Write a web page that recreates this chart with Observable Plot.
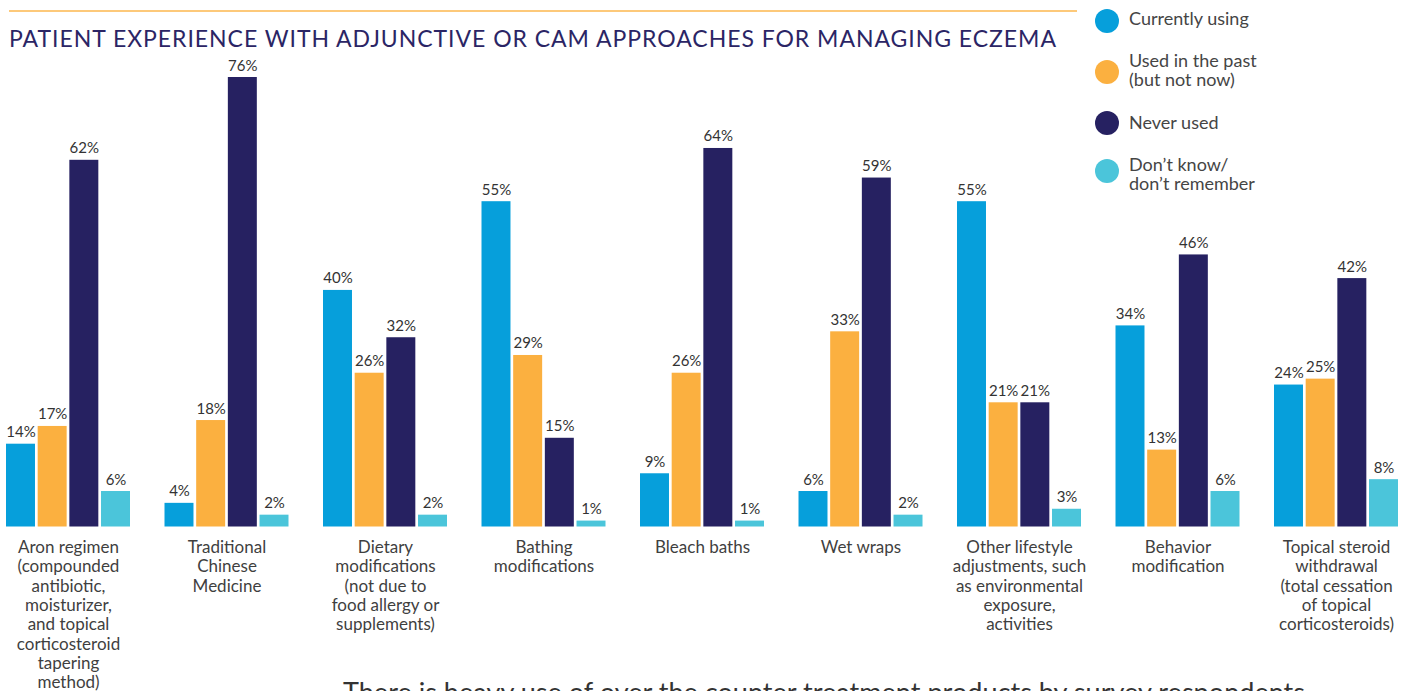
<!DOCTYPE html>
<html>
<head>
<meta charset="utf-8">
<script src="https://cdn.jsdelivr.net/npm/d3@7"></script>
<script src="https://cdn.jsdelivr.net/npm/@observablehq/plot@0.6"></script>
<style>
  html, body { margin: 0; padding: 0; background: #fff; }
  #wrap { position: relative; width: 1412px; height: 691px; overflow: hidden; font-family: Lato, "Open Sans", sans-serif; }
  #chart { position: absolute; left: 0; top: 0; }
  .abs { position: absolute; white-space: nowrap; }
  #rule { left: 9px; top: 10px; width: 1068px; height: 2px; background: #FDC97A; }
  #title { left: 9px; top: 27px; font-size: 23px; line-height: 1; color: #2B2565; }
  .dot { width: 24px; height: 24px; border-radius: 50%; }
  .leg { left: 1129px; font-size: 18px; line-height: 19px; color: #454545; }
  #note { left: 343px; top: 678px; font-size: 27px; line-height: 1; color: #333; }
</style>
</head>
<body>
<div id="wrap">
  <div id="chart"></div>
  <div id="rule" class="abs"></div>
  <div id="title" class="abs"><span id="titleText">PATIENT EXPERIENCE WITH ADJUNCTIVE OR CAM APPROACHES FOR MANAGING ECZEMA</span></div>
  <div id="legend"></div>
  <div id="note" class="abs"><span id="noteText">There is heavy use of over the counter treatment products by survey respondents</span></div>
</div>
<script>
// ---- data ----
const categories = [
  "Aron regimen", "Traditional Chinese Medicine", "Dietary modifications",
  "Bathing modifications", "Bleach baths", "Wet wraps",
  "Other lifestyle adjustments", "Behavior modification", "Topical steroid withdrawal"
];
const categoryLabels = [
  "Aron regimen\n(compounded\nantibiotic,\nmoisturizer,\nand topical\ncorticosteroid\ntapering\nmethod)",
  "Traditional\nChinese\nMedicine",
  "Dietary\nmodifications\n(not due to\nfood allergy or\nsupplements)",
  "Bathing\nmodifications",
  "Bleach baths",
  "Wet wraps",
  "Other lifestyle\nadjustments, such\nas environmental\nexposure,\nactivities",
  "Behavior\nmodification",
  "Topical steroid\nwithdrawal\n(total cessation\nof topical\ncorticosteroids)"
];
const seriesNames = ["Currently using", "Used in the past (but not now)", "Never used", "Don’t know/ don’t remember"];
const legendLabels = ["Currently using", "Used in the past\n(but not now)", "Never used", "Don’t know/\ndon’t remember"];
const seriesColors = ["#069FDB", "#FBB040", "#262161", "#4BC5DA"];

const currentlyUsing = [14, 4, 40, 55, 9, 6, 55, 34, 24];
const usedInPast     = [17, 18, 26, 29, 26, 33, 21, 13, 25];
const neverUsed      = [62, 76, 32, 15, 64, 59, 21, 46, 42];
const dontKnow       = [6, 2, 2, 1, 1, 2, 3, 6, 8];

const seriesValues = [currentlyUsing, usedInPast, neverUsed, dontKnow];
const data = [];
categories.forEach((c, i) => {
  seriesNames.forEach((s, j) => data.push({category: c, series: s, value: seriesValues[j][i]}));
});
const labelOf = new Map(categories.map((c, i) => [c, categoryLabels[i]]));

const chart = Plot.plot({
  width: 1412,
  height: 691,
  marginTop: 77,
  marginBottom: 164.5,
  marginLeft: 6,
  marginRight: 14,
  style: {fontFamily: "Lato, 'Open Sans', sans-serif", background: "transparent"},
  fx: {domain: categories, paddingInner: 0.2177, paddingOuter: 0, round: false, axis: null, label: null},
  x: {domain: seriesNames, paddingInner: 0.085, paddingOuter: 0, round: false, axis: null},
  y: {domain: [0, 76], axis: null},
  color: {domain: seriesNames, range: seriesColors},
  marks: [
    Plot.barY(data, {fx: "category", x: "series", y: "value", fill: "series"}),
    Plot.text(data, {
      fx: "category", x: "series", y: "value",
      text: d => d.value + "%",
      dy: -7, lineAnchor: "bottom",
      fontSize: 15, fill: "#333"
    }),
    Plot.axisFx({
      anchor: "bottom", tickSize: 0, tickPadding: 12, label: null,
      tickFormat: c => labelOf.get(c),
      fontSize: 17, lineHeight: 1.14, fill: "#3f3f3f", textOverflow: null
    })
  ]
});
document.getElementById("chart").appendChild(chart);

// legend
const legend = document.getElementById("legend");
const dotCy = [21.3, 71.7, 123, 171.3];
const textTop = [8.5, 51.2, 112.8, 155.2];
seriesNames.forEach((s, i) => {
  const dot = document.createElement("div");
  dot.className = "abs dot";
  dot.style.left = "1095px";
  dot.style.top = (dotCy[i] - 12) + "px";
  dot.style.background = seriesColors[i];
  legend.appendChild(dot);
  const t = document.createElement("div");
  t.className = "abs leg";
  t.style.top = textTop[i] + "px";
  t.style.whiteSpace = "pre";
  t.textContent = legendLabels[i];
  legend.appendChild(t);
});

// fit title and note widths to the reference
function fit(id, target) {
  const el = document.getElementById(id);
  const w = el.getBoundingClientRect().width;
  const n = el.textContent.length;
  el.style.letterSpacing = ((target - w) / (n - 1)) + "px";
}
fit("titleText", 1047);
fit("noteText", 962);
</script>
</body>
</html>
